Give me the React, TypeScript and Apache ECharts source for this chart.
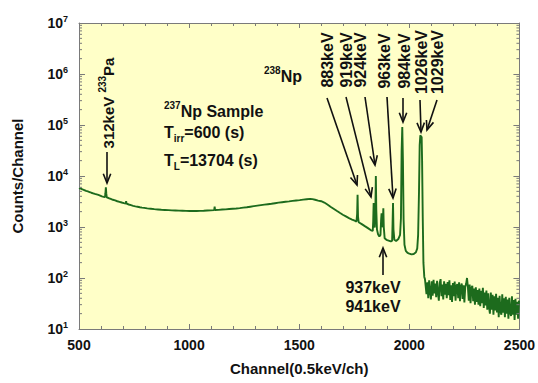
import React, { useEffect, useRef } from 'react';
import * as echarts from 'echarts';

const FONT = "'Liberation Sans', Arial, Helvetica, sans-serif";

// x axis range / ticks
const xMin = 500;
const xMax = 2500;
const xTickStep = 500;

// y axis: log decades 10^1 .. 10^7
const yMin = 10;
const yMax = 10000000;
const logMinorMultipliers = [2, 3, 4, 5, 6, 7, 8, 9];
const logDecades = [10, 100, 1000, 10000, 100000, 1000000];

// Spectrum (channel, counts): continuum + peaks
const continuumChannels = [
  500, 508, 516, 524, 532, 540, 548, 556, 564, 572, 580, 588, 596, 604, 612, 618, 620, 622, 624, 626,
  634, 644, 654, 664, 674, 684, 694, 704, 712, 714, 716, 726, 736, 746, 756, 766, 776, 786, 796, 810,
  826, 842, 858, 874, 890, 906, 922, 938, 954, 970, 986, 1002, 1018, 1034, 1050, 1066, 1082, 1098, 1114, 1116,
  1118, 1134, 1150, 1166, 1182, 1198, 1214, 1230, 1246, 1262, 1278, 1294, 1310, 1326, 1342, 1358, 1374, 1390, 1406, 1422,
  1438, 1454, 1470, 1486, 1502, 1518, 1534, 1550, 1560, 1572, 1586, 1600, 1614, 1628, 1642, 1656, 1670, 1684, 1698, 1712,
  1726, 1740, 1752, 1760, 1763, 1765, 1767, 1770, 1784, 1798, 1812, 1826, 1834, 1836, 1838, 1840, 1843, 1846, 1848, 1850,
  1853, 1858, 1864, 1869, 1872, 1874, 1876, 1879, 1882, 1884, 1888, 1896, 1906, 1916, 1922, 1924, 1926, 1928, 1932, 1940,
  1950, 1958, 1962, 1965, 1968, 1971, 1974, 1978, 1984, 1992, 2000, 2010, 2020, 2030, 2036, 2040, 2044, 2047, 2050, 2053,
  2056, 2058, 2061, 2064, 2068, 2071,
];
const continuumCounts = [
  5800, 5650, 5450, 5300, 5100, 4980, 4850, 4700, 4580, 4450, 4350, 4250, 4120, 3980, 3900, 3850, 4600, 6000, 4500, 3800,
  3700, 3560, 3420, 3320, 3200, 3120, 3020, 2930, 2880, 3200, 2860, 2760, 2680, 2600, 2540, 2500, 2440, 2400, 2370, 2320,
  2280, 2240, 2210, 2180, 2160, 2140, 2120, 2110, 2090, 2080, 2070, 2060, 2065, 2060, 2075, 2085, 2100, 2115, 2140, 2500,
  2150, 2170, 2200, 2220, 2250, 2280, 2310, 2350, 2400, 2440, 2500, 2560, 2620, 2680, 2740, 2800, 2860, 2930, 3000, 3060,
  3120, 3180, 3250, 3310, 3370, 3440, 3500, 3560, 3520, 3420, 3300, 3200, 3020, 2760, 2500, 2280, 2080, 1900, 1740, 1610,
  1490, 1400, 1330, 1280, 1800, 4300, 1600, 1240, 1140, 1040, 950, 860, 840, 1300, 2950, 1100, 980, 2500, 10000, 2200,
  900, 720, 650, 700, 1400, 1860, 1000, 1050, 2340, 1000, 600, 560, 540, 520, 540, 1200, 2950, 900, 560, 530,
  580, 700, 1500, 30000, 91000, 20000, 1400, 450, 340, 310, 300, 290, 295, 320, 380, 700, 5000, 40000, 63000, 60000,
  58000, 20000, 1500, 200, 105, 95,
];

// Noisy high-energy tail, sampled every 4 channels from channel 2074
const tailStartChannel = 2074;
const tailStep = 4;
const tailCounts = [
  95, 48, 82, 40, 90, 55, 38, 86, 45, 92, 50, 78,
  42, 88, 52, 36, 80, 95, 44, 74, 38, 86, 47, 77,
  40, 83, 46, 90, 37, 72, 34, 80, 44, 85, 36, 70,
  76, 40, 82, 35, 68, 78, 39, 72, 33, 67, 77, 100,
  66, 36, 74, 32, 64, 70, 35, 62, 30, 66, 34, 58,
  30, 62, 28, 56, 32, 64, 26, 52, 29, 57, 24, 50,
  27, 20, 52, 24, 47, 19, 44, 23, 49, 21, 41, 17,
  45, 22, 19, 48, 21, 40, 17, 43, 20, 38, 16, 41,
  21, 18, 44, 19, 37, 15, 39, 19, 34, 16, 36,
];

// Peak labels (rotated): text, center x, center y
const peakLabels: [string, number, number][] = [
  ['883keV', 327, 60],
  ['919keV', 346, 60],
  ['924keV', 360, 60],
  ['963keV', 384, 61],
  ['984keV', 404, 61],
  ['1026keV', 421, 62],
  ['1029keV', 437, 62],
];
// Arrows: tail x, tail y, head x, head y
const arrows: [number, number, number, number][] = [
  [327, 98, 357, 185],
  [346, 97, 371, 197],
  [365, 97, 375, 165],
  [387, 97, 393, 198],
  [403, 98, 403, 122],
  [420, 100, 421, 132],
  [437, 100, 427, 130],
  [383, 275, 383, 248],
  [107, 152, 107, 183],
];

const INK = '#111';
const AXIS = '#7a7a7a';

function arrowElems(x1: number, y1: number, x2: number, y2: number) {
  const ang = Math.atan2(y2 - y1, x2 - x1);
  const L = 10;
  const a = 0.38;
  const p1 = [x2 - L * Math.cos(ang - a), y2 - L * Math.sin(ang - a)];
  const p2 = [x2 - L * Math.cos(ang + a), y2 - L * Math.sin(ang + a)];
  return [
    { type: 'line', silent: true, z: 100, shape: { x1, y1, x2, y2 }, style: { stroke: INK, lineWidth: 1.6 } },
    {
      type: 'polyline', silent: true, z: 100,
      shape: { points: [p1, [x2, y2], p2] },
      style: { stroke: INK, lineWidth: 1.6, fill: 'none' },
    },
  ];
}

const richMain = (size: number) => ({
  fontSize: size, fontWeight: 'bold', fontFamily: FONT, fill: INK, color: INK, lineHeight: 22, verticalAlign: 'middle',
});
const richSup = { fontSize: 10, fontWeight: 'bold', fontFamily: FONT, fill: INK, color: INK, lineHeight: 11, verticalAlign: 'top' };
const richSub = { fontSize: 10, fontWeight: 'bold', fontFamily: FONT, fill: INK, color: INK, lineHeight: 11, verticalAlign: 'bottom' };

export default function App() {
  const ref = useRef<HTMLDivElement>(null);
  useEffect(() => {
    if (!ref.current) return;
    const chart = echarts.init(ref.current, undefined, { renderer: 'svg' });

    const spectrum: [number, number][] = continuumChannels.map((c, i) => [c, continuumCounts[i]] as [number, number]);
    tailCounts.forEach((v, i) => spectrum.push([tailStartChannel + i * tailStep, v]));

    const minorTickData: [number, number][] = [];
    logDecades.forEach((d) => logMinorMultipliers.forEach((m) => minorTickData.push([xMin, m * d])));

    const graphics: any[] = [];
    arrows.forEach((a) => graphics.push(...arrowElems(a[0], a[1], a[2], a[3])));
    peakLabels.forEach(([t, x, y]) =>
      graphics.push({
        type: 'text', silent: true, z: 100, x, y, rotation: Math.PI / 2,
        style: { text: t, fill: INK, fontSize: 16, fontWeight: 'bold', fontFamily: FONT, align: 'center', verticalAlign: 'middle' },
      })
    );
    graphics.push({
      type: 'text', silent: true, z: 100, x: 108, y: 103, rotation: Math.PI / 2,
      style: {
        text: '{m|312keV }{sup|233}{m|Pa}', align: 'center', verticalAlign: 'middle',
        rich: { m: richMain(15), sup: richSup },
      },
    });
    graphics.push({
      type: 'text', silent: true, z: 100, x: 264, y: 76,
      style: { text: '{sup|238}{m|Np}', align: 'left', verticalAlign: 'middle', rich: { m: richMain(16), sup: richSup } },
    });
    graphics.push({
      type: 'text', silent: true, z: 100, x: 164, y: 111,
      style: { text: '{sup|237}{m|Np Sample}', align: 'left', verticalAlign: 'middle', rich: { m: richMain(16), sup: richSup } },
    });
    graphics.push({
      type: 'text', silent: true, z: 100, x: 164, y: 132,
      style: { text: '{m|T}{sub|irr}{m|=600 (s)}', align: 'left', verticalAlign: 'middle', rich: { m: richMain(16), sub: richSub } },
    });
    graphics.push({
      type: 'text', silent: true, z: 100, x: 164, y: 160,
      style: { text: '{m|T}{sub|L}{m|=13704 (s)}', align: 'left', verticalAlign: 'middle', rich: { m: richMain(16), sub: richSub } },
    });
    graphics.push({
      type: 'text', silent: true, z: 100, x: 373, y: 287,
      style: { text: '937keV', fill: INK, fontSize: 16, fontWeight: 'bold', fontFamily: FONT, align: 'center', verticalAlign: 'middle' },
    });
    graphics.push({
      type: 'text', silent: true, z: 100, x: 373, y: 306,
      style: { text: '941keV', fill: INK, fontSize: 16, fontWeight: 'bold', fontFamily: FONT, align: 'center', verticalAlign: 'middle' },
    });

    const xCommon = {
      type: 'value', min: xMin, max: xMax, interval: xTickStep,
      axisLine: { show: true, onZero: false, lineStyle: { color: AXIS, width: 1 } },
      axisTick: { show: true, inside: true, length: 5, lineStyle: { color: AXIS } },
      minorTick: { show: true, splitNumber: 5, length: 3, lineStyle: { color: AXIS } },
      splitLine: { show: false },
    };
    const yCommon = {
      type: 'log', logBase: 10, min: yMin, max: yMax,
      axisLine: { show: true, onZero: false, lineStyle: { color: AXIS, width: 1 } },
      axisTick: { show: true, inside: true, length: 6, lineStyle: { color: AXIS } },
      splitLine: { show: false },
    };

    chart.setOption({
      animation: false,
      backgroundColor: '#ffffff',
      grid: {
        left: 79, right: 18, top: 23, bottom: 54, show: true,
        backgroundColor: '#ffffc8', borderWidth: 0,
      },
      xAxis: [
        {
          ...xCommon, position: 'bottom',
          name: 'Channel(0.5keV/ch)', nameLocation: 'middle', nameGap: 32,
          nameTextStyle: { fontSize: 15, fontWeight: 'bold', fontFamily: FONT, color: INK },
          axisLabel: {
            show: true, margin: 9, fontSize: 14, fontWeight: 'bold', fontFamily: FONT, color: INK,
            formatter: (v: number) => String(v),
          },
        },
        { ...xCommon, position: 'top', axisLabel: { show: false } },
      ],
      yAxis: [
        {
          ...yCommon, position: 'left',
          name: 'Counts/Channel', nameLocation: 'middle', nameGap: 54,
          nameTextStyle: { fontSize: 15, fontWeight: 'bold', fontFamily: FONT, color: INK },
          axisLabel: {
            show: true, margin: 11,
            formatter: (v: number) => `{b|10}{s|${Math.round(Math.log10(v))}}`,
            rich: {
              b: { fontSize: 14, fontWeight: 'bold', fontFamily: FONT, color: INK, lineHeight: 18, verticalAlign: 'middle' },
              s: { fontSize: 9, fontWeight: 'bold', fontFamily: FONT, color: INK, lineHeight: 9, verticalAlign: 'top' },
            },
          },
        },
        { ...yCommon, position: 'right', axisLabel: { show: false } },
      ],
      graphic: graphics,
      series: [
        {
          type: 'line',
          data: spectrum,
          xAxisIndex: 0, yAxisIndex: 0,
          showSymbol: false,
          symbol: 'none',
          lineStyle: { color: '#1d6b1d', width: 1.9 },
          itemStyle: { color: '#1d6b1d' },
          silent: true,
          z: 3,
        },
        {
          type: 'custom',
          data: minorTickData,
          xAxisIndex: 0, yAxisIndex: 0,
          encode: { x: 0, y: 1 },
          silent: true,
          clip: false,
          z: 4,
          renderItem: (params: any, api: any) => {
            const v = api.value(1);
            const pL = api.coord([xMin, v]);
            const pR = api.coord([xMax, v]);
            return {
              type: 'group',
              children: [
                { type: 'line', shape: { x1: pL[0], y1: pL[1], x2: pL[0] + 3, y2: pL[1] }, style: { stroke: AXIS, lineWidth: 1 } },
                { type: 'line', shape: { x1: pR[0] - 3, y1: pR[1], x2: pR[0], y2: pR[1] }, style: { stroke: AXIS, lineWidth: 1 } },
              ],
            };
          },
        },
      ],
    });

    return () => chart.dispose();
  }, []);

  return <div ref={ref} style={{ position: 'absolute', left: 0, top: 0, width: 538, height: 383 }} />;
}
